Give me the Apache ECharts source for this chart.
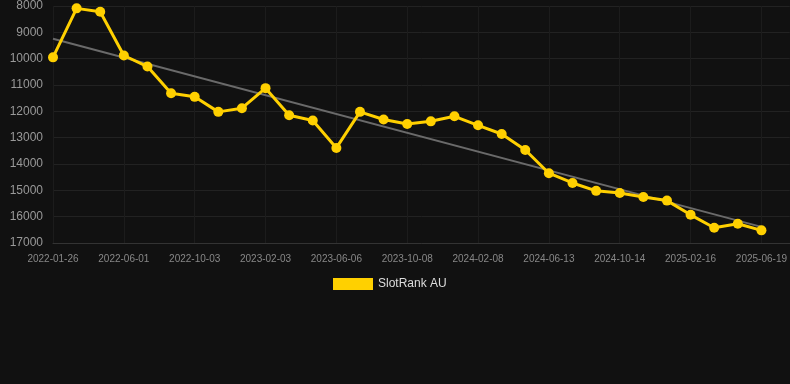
<!DOCTYPE html>
<html>
<head>
<meta charset="utf-8">
<script src="https://cdn.jsdelivr.net/npm/echarts@6/dist/echarts.min.js"></script>
<style>
    html, body { margin: 0; padding: 0; background: #111111; }
    #main { width: 790px; height: 384px; }
</style>
</head>
<body>
<div id="main"></div>
<script>
// dates of each point (only every 3rd is shown as a label)
var dates = [
    '2022-01-26', '2022-03-09', '2022-04-20', '2022-06-01', '2022-07-12', '2022-08-22',
    '2022-10-03', '2022-11-13', '2022-12-24', '2023-02-03', '2023-03-16', '2023-04-26',
    '2023-06-06', '2023-07-17', '2023-08-27', '2023-10-08', '2023-11-18', '2023-12-29',
    '2024-02-08', '2024-03-20', '2024-05-02', '2024-06-13', '2024-07-24', '2024-09-03',
    '2024-10-14', '2024-11-25', '2025-01-05', '2025-02-16', '2025-03-29', '2025-05-09',
    '2025-06-19'
];
var ranks = [
    9950, 8090, 8220, 9880, 10300, 11310, 11450, 12020, 11880, 11120,
    12150, 12350, 13390, 12020, 12310, 12480, 12380, 12190, 12530, 12860,
    13470, 14350, 14720, 15020, 15100, 15250, 15390, 15930, 16420, 16270,
    16520
];
var seriesName = 'SlotRank AU';
var yTicks = [8000, 17000, 1000]; // min, max, step

// linear trend through the ranks
var n = ranks.length, sx = 0, sy = 0, sxy = 0, sxx = 0;
for (let i = 0; i < n; i++) {
    sx += i; sy += ranks[i]; sxy += i * ranks[i]; sxx += i * i;
}
var slope = (n * sxy - sx * sy) / (n * sxx - sx * sx);
var icpt = (sy - slope * sx) / n;

var lineData = [];
for (let i = 0; i < n; i++) {
    lineData.push([i, ranks[i]]);
}
var trendData = [[0, icpt], [n - 1, icpt + slope * (n - 1)]];

var myChart = echarts.init(document.getElementById('main'));
var font = 'Liberation Sans, Arial, sans-serif';

var option = {
    backgroundColor: '#111111',
    animation: false,
    textStyle: { fontFamily: font },
    grid: { left: 53, right: 0, top: 6, bottom: 141 },
    legend: {
        data: [seriesName],
        top: 273,
        left: 328,
        itemWidth: 40,
        itemHeight: 12,
        icon: 'rect',
        textStyle: { color: '#dddddd', fontSize: 12, fontFamily: font }
    },
    xAxis: {
        type: 'value',
        min: 0,
        max: 31.2,
        interval: 3,
        axisLine: { show: true, lineStyle: { color: '#333333' } },
        axisTick: { show: false },
        axisLabel: {
            color: '#888888',
            fontSize: 10,
            margin: 11,
            showMaxLabel: false,
            formatter: function (v) { return dates[v] || ''; }
        },
        splitLine: { show: true, lineStyle: { color: '#1c1c1c' } }
    },
    yAxis: {
        type: 'value',
        inverse: true,
        min: yTicks[0],
        max: yTicks[1],
        interval: yTicks[2],
        axisLine: { show: false },
        axisTick: { show: false },
        axisLabel: {
            color: '#999999',
            fontSize: 12,
            margin: 10,
            formatter: function (v) { return String(v); }
        },
        splitLine: { show: true, lineStyle: { color: '#222222' } }
    },
    series: [
        {
            name: 'trend',
            type: 'line',
            data: trendData,
            symbol: 'none',
            silent: true,
            lineStyle: { color: '#6a6a6a', width: 2 },
            z: 1
        },
        {
            name: seriesName,
            type: 'line',
            data: lineData,
            symbol: 'circle',
            symbolSize: 10,
            itemStyle: { color: '#ffd000' },
            lineStyle: { color: '#ffd000', width: 3 },
            z: 3
        }
    ]
};

option && myChart.setOption(option);
</script>
</body>
</html>
